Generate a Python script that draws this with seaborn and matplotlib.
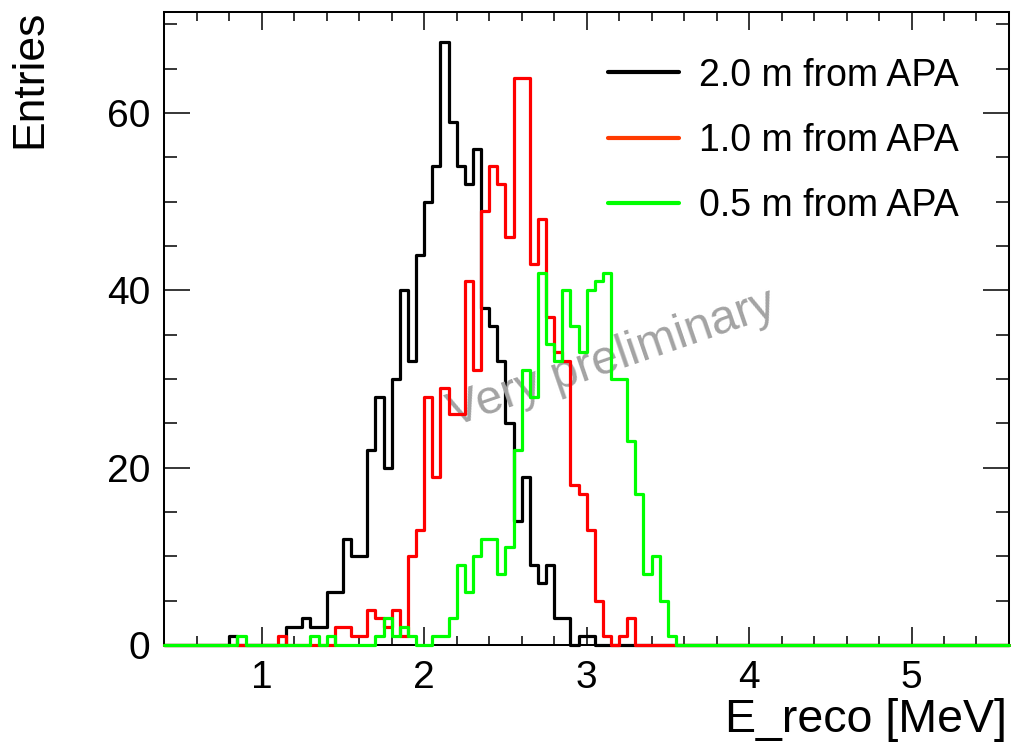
import numpy as np
import pandas as pd
import matplotlib
matplotlib.use("Agg")
import matplotlib.pyplot as plt
from matplotlib.lines import Line2D
from matplotlib.ticker import MultipleLocator
import seaborn as sns

# ---- binning ----
X_MIN = 0.4
X_MAX = 5.6
N_BINS = 104

# ---- data (counts per 0.05 MeV bin, starting at bin index given) ----
series_labels = ["2.0 m from APA", "1.0 m from APA", "0.5 m from APA"]

black_start = 8   # E = 0.80 MeV
black_counts = [1, 0, 0, 0, 0, 0, 0, 2, 2, 3, 2, 2, 6, 6, 12, 10, 10, 22, 28, 20,
                30, 40, 32, 44, 50, 54, 68, 59, 54, 52, 56, 38, 36, 32, 25, 14, 19,
                9, 7, 9, 3, 3, 0, 1, 1]

red_start = 14    # E = 1.10 MeV
red_counts = [1, 0, 0, 0, 0, 0, 0, 2, 2, 1, 1, 4, 3, 2, 4, 1, 10, 13, 28, 19, 29,
              26, 26, 41, 31, 49, 54, 52, 46, 64, 64, 43, 48, 37, 33, 32, 18, 17,
              13, 5, 1, 0, 1, 3]

green_start = 9   # E = 0.85 MeV
green_counts = [1, 0, 0, 0, 0, 0, 0, 0, 0, 1, 0, 1, 0, 0, 0, 0, 0, 1, 3, 1, 2, 1,
                0, 0, 1, 1, 3, 9, 6, 10, 12, 12, 8, 11, 22, 31, 28, 42, 34, 32, 40,
                36, 33, 40, 41, 42, 30, 30, 23, 17, 8, 10, 5, 1]

line_colors = ["#000000", "#ff0000", "#00ff00"]
legend_colors = ["#000000", "#ff3a00", "#00ff00"]

x_ticks = [1, 2, 3, 4, 5]
y_ticks = [0, 20, 40, 60]

# ---- build long-form table ----
edges = np.linspace(X_MIN, X_MAX, N_BINS + 1)
centers = 0.5 * (edges[:-1] + edges[1:])
frames = []
for lab, start, cnt in zip(series_labels,
                           [black_start, red_start, green_start],
                           [black_counts, red_counts, green_counts]):
    frames.append(pd.DataFrame({
        "E_reco": centers[start:start + len(cnt)],
        "count": cnt,
        "series": lab,
    }))
df = pd.concat(frames, ignore_index=True)

# ---- style ----
sns.set_style("ticks")
plt.rcParams["font.family"] = ["Liberation Sans", "DejaVu Sans"]
plt.rcParams["text.color"] = "black"
plt.rcParams["axes.labelcolor"] = "black"
plt.rcParams["xtick.color"] = "black"
plt.rcParams["ytick.color"] = "black"

fig = plt.figure(figsize=(10.11, 7.44), dpi=100)
ax = fig.add_axes([0.1625, 0.1331, 0.8355, 0.8508])

for lab, col in zip(series_labels, line_colors):
    sub = df[df["series"] == lab]
    sns.histplot(data=sub, x="E_reco", weights="count", bins=list(edges),
                 element="step", fill=False, color=col, linewidth=2.3, ax=ax)

for i, ln in enumerate(ax.lines):
    ln.set_zorder(3 + i)
    ln.set_clip_on(False)
for coll in ax.collections:
    coll.set_zorder(3)
    coll.set_clip_on(False)

ax.set_xlim(X_MIN, X_MAX)
ax.set_ylim(0, 71.4)
ax.set_xticks(x_ticks)
ax.set_yticks(y_ticks)
ax.xaxis.set_minor_locator(MultipleLocator(0.2))
ax.yaxis.set_minor_locator(MultipleLocator(5))

ax.tick_params(axis="both", which="both", direction="in", top=True, right=True,
               width=1.1, color="black", labelcolor="black")
ax.tick_params(axis="x", which="major", length=13, labelsize=28, pad=11)
ax.tick_params(axis="x", which="minor", length=6.5)
ax.tick_params(axis="y", which="major", length=18.5, labelsize=28, pad=10)
ax.tick_params(axis="y", which="minor", length=9.3)
for sp in ax.spines.values():
    sp.set_linewidth(1.45)
    sp.set_color("black")

ax.set_xlabel("E_reco [MeV]", fontsize=33.5, loc="right", color="black")
ax.set_ylabel("Entries", fontsize=32, loc="top", color="black")
ax.xaxis.set_label_coords(0.998, -0.083)
ax.yaxis.set_label_coords(-0.135, 1.004)

handles = [Line2D([], [], color=c, lw=3.0) for c in legend_colors]
leg = ax.legend(handles, series_labels, loc="upper left", bbox_to_anchor=(0.525, 0.928),
                frameon=False, fontsize=27, handlelength=1.9, handletextpad=0.52,
                labelspacing=0.78, borderpad=0, borderaxespad=0)
for t in leg.get_texts():
    t.set_color("black")

ax.text(3.155, 32.3, "Very preliminary", color="#a3a3a3", fontsize=34.5,
        rotation=19, rotation_mode="anchor", ha="center", va="center",
        transform=ax.transData)

fig.savefig("out.png", dpi=100)
